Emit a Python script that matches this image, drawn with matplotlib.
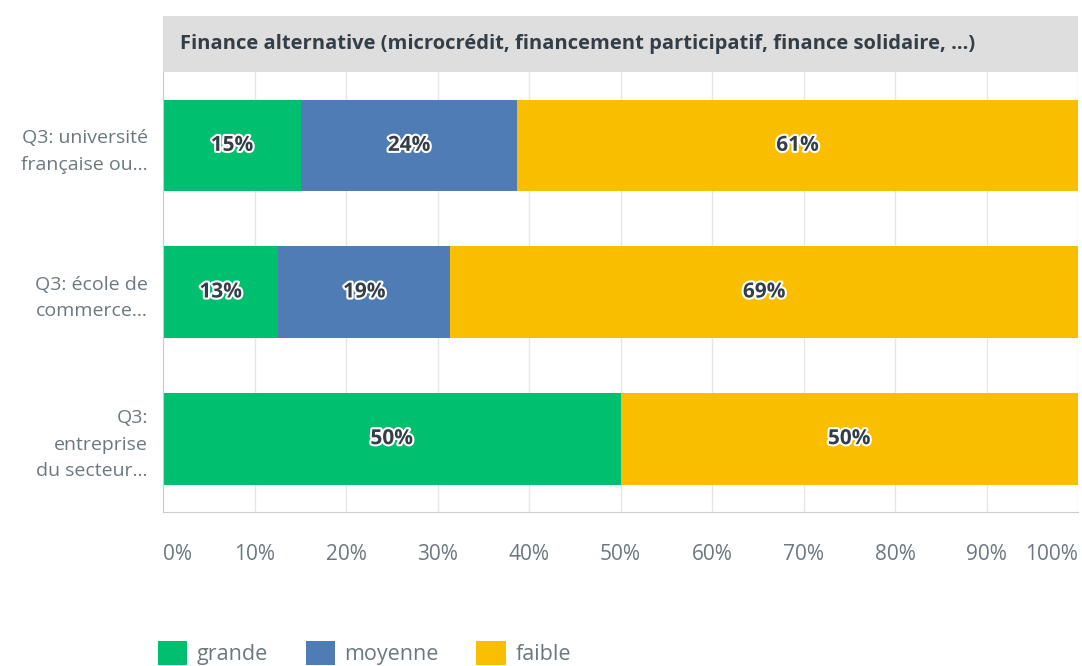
import matplotlib.pyplot as plt
from matplotlib.patches import Patch
import matplotlib.patheffects as pe

plt.rcParams['font.family'] = ['Open Sans', 'DejaVu Sans']

# data
categories = ['Q3: université\nfrançaise ou...',
              'Q3: école de\ncommerce...',
              'Q3:\nentreprise\ndu secteur...']
series_names = ['grande', 'moyenne', 'faible']
grande = [15.1, 12.6, 50.0]
moyenne = [23.6, 18.8, 0.0]
faible = [61.3, 68.6, 50.0]
colors = ['#00bf6f', '#507cb6', '#f9be00']
title = 'Finance alternative (microcrédit, financement participatif, finance solidaire, ...)'
xticks = [0, 10, 20, 30, 40, 50, 60, 70, 80, 90, 100]

W, H = 1082, 666
fig = plt.figure(figsize=(W / 100, H / 100), dpi=100)

# header band with title
hax = fig.add_axes([163 / W, 1 - 72 / H, 915 / W, 56 / H])
hax.set_facecolor('#dedede')
hax.set_xticks([])
hax.set_yticks([])
for s in hax.spines.values():
    s.set_visible(False)
hax.text(17 / 915, 0.5, title, transform=hax.transAxes, ha='left', va='center',
         fontsize=14.5, fontweight='bold', color='#333e48')

ax = fig.add_axes([163 / W, 1 - 512 / H, 915 / W, 440 / H])
ypos = list(range(len(categories)))
left = [0.0] * len(categories)
for name, vals, c in zip(series_names, [grande, moyenne, faible], colors):
    ax.barh(ypos, vals, left=left, height=0.625, color=c, label=name, zorder=2)
    for y, v, l in zip(ypos, vals, left):
        if v > 0:
            ax.text(l + v / 2, y, f'{round(v)}%', ha='center', va='center',
                    fontsize=15, fontweight='bold', color='#333e48', zorder=3,
                    path_effects=[pe.withStroke(linewidth=3, foreground='white')])
    left = [a + b for a, b in zip(left, vals)]

ax.set_xlim(0, 100)
ax.set_ylim(2.5, -0.5)
ax.set_yticks(ypos)
ax.set_yticklabels(categories, fontsize=14, color='#6b787f', linespacing=1.6)
ax.set_xticks(xticks)
ax.set_xticklabels([f'{t}%' for t in xticks], fontsize=15, color='#6b787f')
labels = ax.get_xticklabels()
labels[0].set_ha('left')
labels[-1].set_ha('right')
ax.tick_params(axis='both', length=0)
ax.tick_params(axis='x', pad=23)
ax.tick_params(axis='y', pad=11)
ax.grid(axis='x', color='#e6e6e6', linewidth=1, zorder=0)
for s in ['top', 'right']:
    ax.spines[s].set_visible(False)
ax.spines['left'].set_color('#cccccc')
ax.spines['bottom'].set_color('#cccccc')

handles = [Patch(facecolor=c, edgecolor='none', label=n) for n, c in zip(series_names, colors)]
fig.legend(handles=handles, loc='center left', bbox_to_anchor=(158 / W, 13 / H),
           ncol=3, frameon=False, fontsize=15.5, labelcolor='#6b787f',
           handlelength=1.35, handleheight=1.35, handletextpad=0.45,
           columnspacing=1.75, borderpad=0, borderaxespad=0)

fig.savefig('out.png', dpi=100, facecolor='white')
